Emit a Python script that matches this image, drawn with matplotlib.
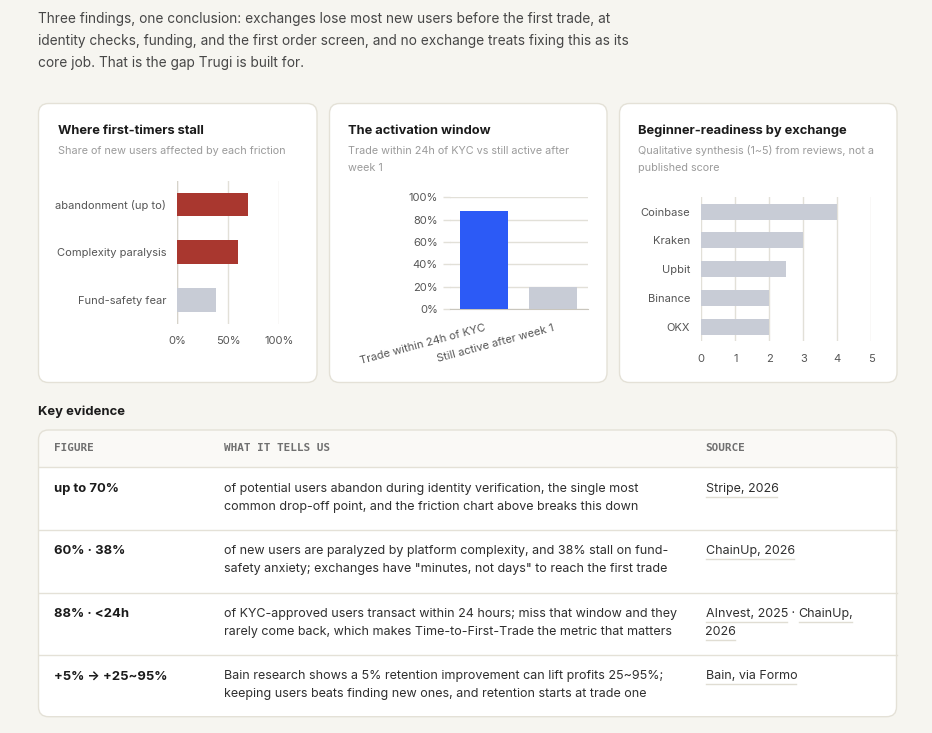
import matplotlib
matplotlib.use("Agg")
import matplotlib.pyplot as plt
from matplotlib.patches import FancyBboxPatch, Rectangle

W, H = 932, 733

# ---- data ----
intro_lines = [
    "Three findings, one conclusion: exchanges lose most new users before the first trade, at",
    "identity checks, funding, and the first order screen, and no exchange treats fixing this as its",
    "core job. That is the gap Trugi is built for.",
]

friction_labels = ["abandonment (up to)", "Complexity paralysis", "Fund-safety fear"]
friction_values = [70, 60, 38]

activation_labels = ["Trade within 24h of KYC", "Still active after week 1"]
activation_values = [88, 20]

exchanges = ["Coinbase", "Kraken", "Upbit", "Binance", "OKX"]
readiness = [4, 3, 2.5, 2, 2]

table_headers = ["FIGURE", "WHAT IT TELLS US", "SOURCE"]
table_figures = ["up to 70%", "60% · 38%", "88% · <24h", "+5% → +25~95%"]
table_notes = [
    ["of potential users abandon during identity verification, the single most",
     "common drop-off point, and the friction chart above breaks this down"],
    ["of new users are paralyzed by platform complexity, and 38% stall on fund-",
     "safety anxiety; exchanges have \"minutes, not days\" to reach the first trade"],
    ["of KYC-approved users transact within 24 hours; miss that window and they",
     "rarely come back, which makes Time-to-First-Trade the metric that matters"],
    ["Bain research shows a 5% retention improvement can lift profits 25~95%;",
     "keeping users beats finding new ones, and retention starts at trade one"],
]
# each source: lines -> segments (linked segments get an underline)
table_sources = [
    [["Stripe, 2026"]],
    [["ChainUp, 2026"]],
    [["AInvest, 2025", " · ", "ChainUp,"], ["2026"]],
    [["Bain, via Formo"]],
]

# ---- style ----
BG = "#f6f5f0"
BORDER = "#e4e1d7"
GRID = "#e2e0d8"
RED = "#a9372f"
BLUE = "#2c5af6"
GREY_BAR = "#c8ccd6"
DARK = "#1b1b1b"
BODY = "#2f2f2f"
INTRO = "#474747"
SUB = "#9b9b9b"
TICK = "#555555"
HEAD_BG = "#faf9f6"

plt.rcParams["font.family"] = ["Inter", "DejaVu Sans"]

fig = plt.figure(figsize=(W / 100, H / 100), dpi=100, facecolor=BG)
bg = fig.add_axes([0, 0, 1, 1])
bg.set_xlim(0, W)
bg.set_ylim(H, 0)
bg.axis("off")


def px_axes(x0, y0, x1, y1):
    ax = fig.add_axes([x0 / W, 1 - y1 / H, (x1 - x0) / W, (y1 - y0) / H])
    ax.patch.set_alpha(0)
    for s in ax.spines.values():
        s.set_visible(False)
    return ax


def card(x0, y0, x1, y1, fc="white", ec=BORDER, z=1):
    bg.add_patch(FancyBboxPatch((x0, y0), x1 - x0, y1 - y0,
                                boxstyle="round,pad=0,rounding_size=10",
                                fc=fc, ec=ec, lw=1, zorder=z))


# intro paragraph
for i, line in enumerate(intro_lines):
    bg.text(38, 19.5 + i * 22, line, fontsize=9.85, color=INTRO, va="center")

# ---- three chart cards ----
cards = [(38.5, 317), (329.5, 607), (619.5, 897)]
titles = ["Where first-timers stall", "The activation window", "Beginner-readiness by exchange"]
subtitles = [
    ["Share of new users affected by each friction"],
    ["Trade within 24h of KYC vs still active after", "week 1"],
    ["Qualitative synthesis (1~5) from reviews, not a", "published score"],
]
for (x0, x1), t, sub in zip(cards, titles, subtitles):
    card(x0, 103.5, x1, 382.5)
    bg.text(x0 + 19, 130.5, t, fontsize=9.3, fontweight="bold", color=DARK, va="center")
    for j, s in enumerate(sub):
        bg.text(x0 + 19, 151 + j * 17, s, fontsize=7.8, color=SUB, va="center")

# card 1: friction bars
ax1 = px_axes(177.3, 180.7, 279, 323.5)
ax1.barh(range(len(friction_values)), friction_values, height=0.5,
         color=[RED, RED, GREY_BAR], zorder=3)
ax1.set_xlim(0, 100)
ax1.set_ylim(len(friction_values) - 0.5, -0.5)
ax1.set_yticks(range(len(friction_labels)), friction_labels)
ax1.set_xticks([0, 50, 100], ["0%", "50%", "100%"])
ax1.grid(axis="x", color=GRID, lw=1, zorder=0)
ax1.tick_params(length=0, labelsize=8, colors=TICK)
ax1.tick_params(axis="y", pad=8)
ax1.tick_params(axis="x", pad=9)
ax1.axvline(0, color="#d6d3ca", lw=1, zorder=2)

# card 2: activation window
ax2 = px_axes(449.5, 197.3, 587.5, 309)
ax2.bar(range(len(activation_values)), activation_values, width=0.7,
        color=[BLUE, GREY_BAR], zorder=3)
ax2.set_xlim(-0.5, len(activation_values) - 0.5)
ax2.set_ylim(0, 100)
ax2.set_yticks(range(0, 101, 20), [f"{v}%" for v in range(0, 101, 20)])
ax2.set_xticks(range(len(activation_labels)))
ax2.set_xticklabels(activation_labels, rotation=15, ha="right",
                    rotation_mode="anchor")
ax2.grid(axis="y", color=GRID, lw=1, zorder=0)
ax2.tick_params(axis="y", length=5.4, width=1, color=GRID, pad=3,
                labelsize=8, labelcolor=TICK)
ax2.tick_params(axis="x", length=0, pad=10, labelsize=8, labelcolor=TICK)
ax2.spines["bottom"].set_visible(True)
ax2.spines["bottom"].set_color("#c9c6bd")

# card 3: beginner readiness
ax3 = px_axes(701.3, 197.3, 871.3, 341)
ax3.barh(range(len(readiness)), readiness, height=0.56, color=GREY_BAR, zorder=3)
ax3.set_xlim(0, 5)
ax3.set_ylim(len(readiness) - 0.5, -0.5)
ax3.set_yticks(range(len(exchanges)), exchanges)
ax3.set_xticks(range(6))
ax3.grid(axis="x", color=GRID, lw=1, zorder=0)
ax3.tick_params(length=0, labelsize=8, colors=TICK)
ax3.tick_params(axis="y", pad=8)
ax3.tick_params(axis="x", pad=9.5)

# ---- key evidence table ----
bg.text(38, 411.5, "Key evidence", fontsize=9.4, fontweight="bold", color=DARK, va="center")

tx0, ty0, tx1, ty1 = 38.5, 430, 896.5, 716.7
row_edges = [467.3, 529.5, 592.5, 654.5, ty1]
card(tx0, ty0, tx1, ty1, fc=HEAD_BG, ec="none", z=1)
bg.add_patch(FancyBboxPatch((tx0, row_edges[0]), tx1 - tx0, ty1 - row_edges[0],
                            boxstyle="round,pad=0,rounding_size=10",
                            fc="white", ec="none", zorder=1.1))
bg.add_patch(Rectangle((tx0, row_edges[0]), tx1 - tx0, 20, fc="white", ec="none", zorder=1.2))
card(tx0, ty0, tx1, ty1, fc="none", z=1.5)
for y in row_edges[:-1]:
    bg.plot([tx0, tx1], [y, y], color=BORDER, lw=1, zorder=1.6)

col_x = [54, 224.5, 705.5]
for x, h in zip(col_x, table_headers):
    bg.text(x, 448.3, h, fontsize=7.9, family="DejaVu Sans Mono", fontweight="bold",
            color="#707070", va="center", zorder=2)

fig.canvas.draw()
renderer = fig.canvas.get_renderer()
inv = bg.transData.inverted()

for i, (fig_txt, notes, src) in enumerate(zip(table_figures, table_notes, table_sources)):
    y1 = row_edges[i] + 21.7
    bg.text(col_x[0], y1, fig_txt, fontsize=9.4, fontweight="bold", color=DARK,
            va="center", zorder=2)
    for j, line in enumerate(notes):
        bg.text(col_x[1], y1 + j * 18, line, fontsize=9, color=BODY, va="center", zorder=2)
    for j, segs in enumerate(src):
        x = col_x[2]
        for seg in segs:
            t = bg.text(x, y1 + j * 18, seg, fontsize=9, color=BODY, va="center", zorder=2)
            bb = t.get_window_extent(renderer)
            (ax_, ay_), (bx_, by_) = inv.transform([[bb.x0, bb.y0], [bb.x1, bb.y1]])
            if seg.strip() != "·":
                bg.plot([ax_ + 0.5, bx_ - 1], [y1 + j * 18 + 8] * 2, color="#e0ddd3",
                        lw=1, zorder=2)
            x = bx_

fig.savefig("out.png", dpi=100, facecolor=BG)
